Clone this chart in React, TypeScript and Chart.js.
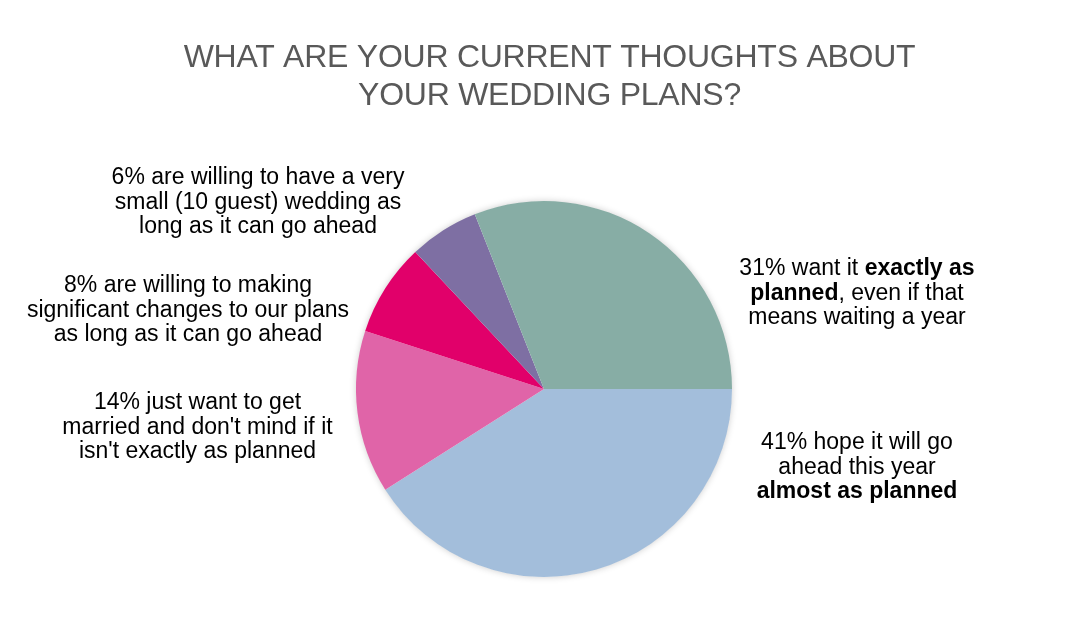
import React, { useEffect, useRef } from "react";
import { Chart, registerables } from "chart.js";

Chart.register(...registerables);

// ---- data ----
const categories = [
  "Go ahead this year almost as planned",
  "Just want to get married",
  "Significant changes",
  "Very small (10 guest) wedding",
  "Exactly as planned",
];
const values = [41, 14, 8, 6, 31];
const sliceColors = ["#A3BEDB", "#E064A8", "#E1006A", "#7E6FA3", "#87ADA5"];
const titleLines = ["WHAT ARE YOUR CURRENT THOUGHTS ABOUT", "YOUR WEDDING PLANS?"];
const labelLines: string[][] = [
  ["41% hope it will go", "ahead this year", "**almost as planned**"],
  ["14% just want to get", "married and don't mind if it", "isn't exactly as planned"],
  ["8% are willing to making", "significant changes to our plans", "as long as it can go ahead"],
  ["6% are willing to have a very", "small (10 guest) wedding as", "long as it can go ahead"],
  ["31% want it **exactly as**", "**planned**, even if that", "means waiting a year"],
];

// ---- layout (label anchors relative to the pie centre) ----
const labelAnchors = [
  { dx: 313, dy: 60 },
  { dx: -346.5, dy: 20 },
  { dx: -356, dy: -97 },
  { dx: -286, dy: -205 },
  { dx: 313, dy: -114 },
];

const FONT = '"Liberation Sans", Arial, Helvetica, sans-serif';

function parseSegments(line: string): { text: string; bold: boolean }[] {
  const parts = line.split("**");
  return parts
    .map((t, i) => ({ text: t, bold: i % 2 === 1 }))
    .filter((s) => s.text.length > 0);
}

const shadowPlugin = {
  id: "pieShadow",
  beforeDatasetsDraw(chart: any) {
    const arc = chart.getDatasetMeta(0).data[0];
    if (!arc) return;
    const ctx = chart.ctx;
    ctx.save();
    ctx.beginPath();
    ctx.arc(arc.x, arc.y, arc.outerRadius - 0.5, 0, Math.PI * 2);
    ctx.fillStyle = "#ffffff";
    ctx.shadowColor = "rgba(0,0,0,0.22)";
    ctx.shadowBlur = 7;
    ctx.fill();
    ctx.restore();
  },
};

const textPlugin = {
  id: "richText",
  afterDraw(chart: any) {
    const meta = chart.getDatasetMeta(0);
    const first = meta.data[0];
    if (!first) return;
    const cx = first.x;
    const cy = first.y;
    const ctx = chart.ctx;
    ctx.save();
    // title
    ctx.fillStyle = "#595959";
    ctx.font = `32px ${FONT}`;
    ctx.textAlign = "center";
    ctx.textBaseline = "alphabetic";
    try {
      (ctx as any).letterSpacing = "-0.25px";
    } catch (e) {}
    const titleBaselines = [67, 105];
    titleLines.forEach((t, i) => {
      ctx.fillText(t, cx + 5.5, titleBaselines[i]);
    });
    try {
      (ctx as any).letterSpacing = "0px";
    } catch (e) {}
    // labels
    ctx.fillStyle = "#000000";
    ctx.textAlign = "left";
    const lineHeight = 24.5;
    labelLines.forEach((lines, idx) => {
      const a = labelAnchors[idx];
      const lx = cx + a.dx;
      lines.forEach((line, li) => {
        const segs = parseSegments(line);
        let total = 0;
        const widths = segs.map((s) => {
          ctx.font = `${s.bold ? "bold " : ""}23px ${FONT}`;
          const w = ctx.measureText(s.text).width;
          total += w;
          return w;
        });
        let x = lx - total / 2;
        const y = cy + a.dy + li * lineHeight;
        segs.forEach((s, si) => {
          ctx.font = `${s.bold ? "bold " : ""}23px ${FONT}`;
          ctx.fillText(s.text, x, y);
          x += widths[si];
        });
      });
    });
    ctx.restore();
  },
};

export default function App() {
  const canvasRef = useRef<HTMLCanvasElement | null>(null);

  useEffect(() => {
    document.body.style.margin = "0";
    const canvas = canvasRef.current;
    if (!canvas) return;
    const chart = new Chart(canvas, {
      type: "pie",
      data: {
        labels: categories,
        datasets: [
          {
            data: values,
            backgroundColor: sliceColors,
            borderWidth: 0,
            hoverOffset: 0,
            offset: 0,
          },
        ],
      },
      options: {
        responsive: true,
        maintainAspectRatio: false,
        animation: false,
        rotation: 90,
        layout: {
          padding: { left: 356, right: 350, top: 201, bottom: 55 },
        },
        plugins: {
          legend: { display: false },
          title: { display: false },
          tooltip: { enabled: false },
        },
        events: [],
      },
      plugins: [shadowPlugin, textPlugin],
    });
    return () => chart.destroy();
  }, []);

  return (
    <div style={{ position: "relative", width: 1082, height: 632, background: "#ffffff" }}>
      <canvas ref={canvasRef} />
    </div>
  );
}
